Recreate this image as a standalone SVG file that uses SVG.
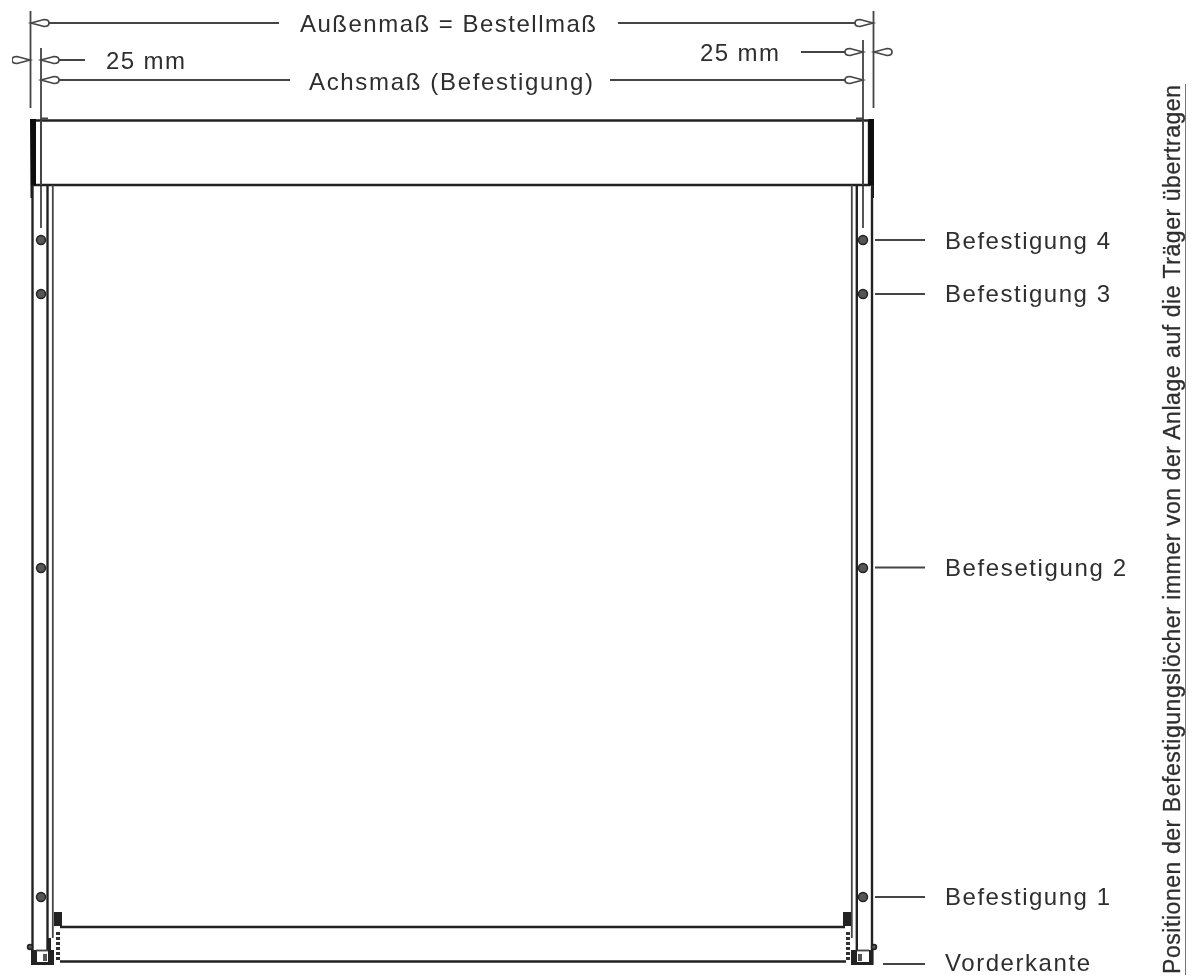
<svg xmlns="http://www.w3.org/2000/svg" width="1194" height="978" viewBox="0 0 1194 978">
<defs>
<style>
.t{font-family:"Liberation Sans",Arial,sans-serif;font-size:24px;fill:#2e2e2e;}
.l{stroke:#444;stroke-width:1.8;fill:none;}
.k{stroke:#222;stroke-width:2.4;fill:none;}
.a{stroke:#444;stroke-width:1.7;fill:#fff;}
.s{fill:#555;stroke:#222;stroke-width:1.4;}
.h{stroke:#333;stroke-width:4;stroke-dasharray:3 2;fill:none;}
</style>
<filter id="soft" x="0" y="0" width="100%" height="100%"><feGaussianBlur stdDeviation="0.45"/></filter>
<path id="arr" class="a" d="M0 0 L13 -3.500 Q18 -3.500 18 0 Q18 3.500 13 3.500 Z"/>
<circle id="scr" class="s" r="4.500"/>
</defs>
<rect width="1194" height="978" fill="#fff"/>
<g filter="url(#soft)">
<g id="connectors">
<path class="l" d="M30.500 11V108M41 48V228M873.500 11V108M863 40V228"/>
<path class="l" d="M48 23H279M618 23H856M48 60H85M48 80H290M610 80H846M801 52H846"/>
<use href="#arr" x="31" y="23"/>
<use href="#arr" transform="translate(873 23) scale(-1 1)"/>
<use href="#arr" x="41" y="60"/>
<use href="#arr" x="41" y="80"/>
<use href="#arr" transform="translate(863 52) scale(-1 1)"/>
<use href="#arr" transform="translate(863 80) scale(-1 1)"/>
<use href="#arr" transform="translate(30 60) scale(-1 1)"/>
<use href="#arr" x="874" y="52"/>
<path class="l" d="M875 240H925M875 294H925M875 567.500H925M875 897H925M883 964H925"/>
<path d="M1186 84V975" stroke="#666" stroke-width="1.800" fill="none"/>
</g>
<g id="headbox">
<path class="k" d="M33 120.500H872M33 185H870M869 120V185"/>
<path class="l" d="M41 120V185M863 120V185M41 118.500H48M856 118.500H863"/>
<path d="M30 119H36V185L33 186V198H30.500ZM868.500 119H874V198H871.500V186L868.500 185Z" fill="#111"/>
</g>
<g id="left-rail">
<path class="k" d="M32.500 185V964"/>
<path class="k" d="M47.500 185V951"/>
<path class="l" d="M52.800 185V938"/>
<path d="M54 912H62V926H54Z" fill="#222"/>
<path class="h" d="M58 932V962"/>
<path d="M31 950H37V962H48V938H51V950H54V965H31Z" fill="#222"/>
<path class="l" d="M36 950.500H48"/>
<path d="M43 954H47V961H43Z" fill="#555"/>
<circle class="s" cx="30" cy="947" r="2.500"/>
<use href="#scr" x="41" y="240"/>
<use href="#scr" x="41" y="294"/>
<use href="#scr" x="41" y="568"/>
<use href="#scr" x="41" y="897"/>
</g>
<g id="right-rail">
<path class="k" d="M872 185V964"/>
<path class="k" d="M856.800 185V951"/>
<path class="l" d="M851.800 185V938"/>
<path d="M843 912H851V926H843Z" fill="#222"/>
<path class="h" d="M848 932V962"/>
<path d="M851 950H857V962H869V950H873.500V965H851Z" fill="#222"/>
<path class="l" d="M857 950.500H869"/>
<path d="M858 954H862V961H858Z" fill="#555"/>
<circle class="s" cx="874" cy="947" r="2.500"/>
<use href="#scr" x="863" y="240"/>
<use href="#scr" x="863" y="294"/>
<use href="#scr" x="863" y="568"/>
<use href="#scr" x="863" y="897"/>
</g>
<g id="bottom-bar">
<path class="k" d="M60 927H845M60 961.500H846"/>
</g>
<g id="labels">
<text class="t" x="300" y="32" textLength="296" lengthAdjust="spacing">Außenmaß = Bestellmaß</text>
<text class="t" x="106" y="69" textLength="79" lengthAdjust="spacing">25 mm</text>
<text class="t" x="700" y="61" textLength="79" lengthAdjust="spacing">25 mm</text>
<text class="t" x="309" y="90" textLength="284" lengthAdjust="spacing">Achsmaß (Befestigung)</text>
<text class="t" x="945" y="249" textLength="165" lengthAdjust="spacing">Befestigung 4</text>
<text class="t" x="945" y="302" textLength="165" lengthAdjust="spacing">Befestigung 3</text>
<text class="t" x="945" y="576" textLength="181" lengthAdjust="spacing">Befesetigung 2</text>
<text class="t" x="945" y="905" textLength="165" lengthAdjust="spacing">Befestigung 1</text>
<text class="t" x="945" y="971" textLength="145" lengthAdjust="spacing">Vorderkante</text>
<text class="t" transform="translate(1180 974) rotate(-90)" textLength="889" lengthAdjust="spacing" style="font-size:23px;stroke:#2e2e2e;stroke-width:0.3">Positionen der Befestigungslöcher immer von der Anlage auf die Träger übertragen</text>
</g>
</g>
</svg>
